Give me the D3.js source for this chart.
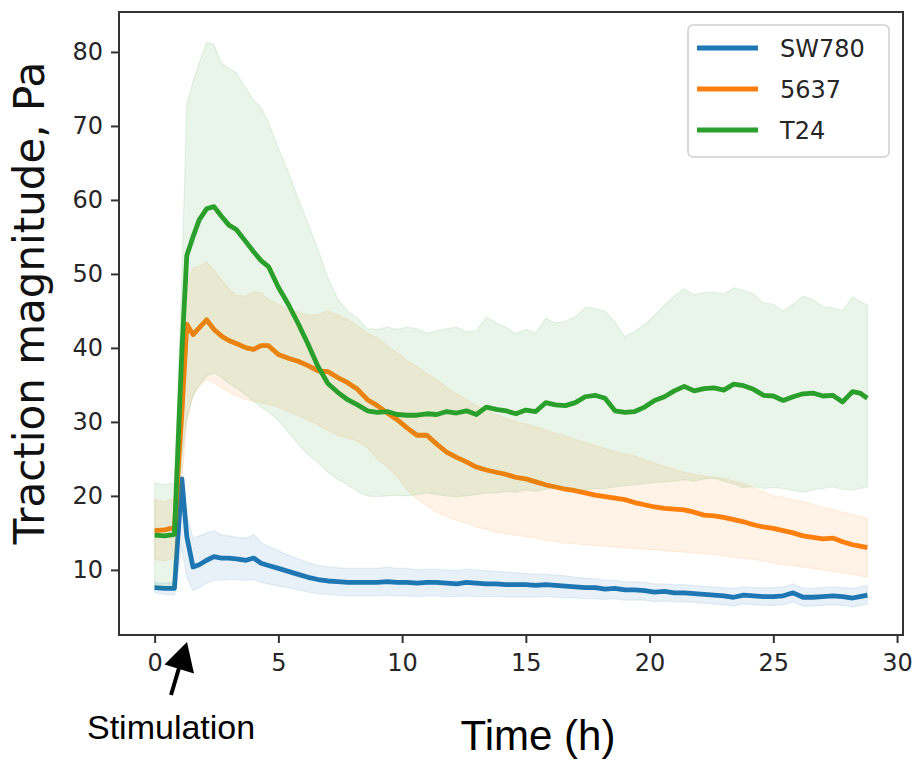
<!DOCTYPE html>
<html>
<head>
<meta charset="utf-8">
<script src="https://cdn.jsdelivr.net/npm/d3@7"></script>
<style>
  body { margin: 0; background: #fff; }
  svg { display: block; }
</style>
</head>
<body>
<div id="chart"></div>
<script>
// time points (h)
var time = [0, 0.4, 0.8, 1.1, 1.3, 1.55, 1.8, 2.1, 2.4, 2.7, 3.0, 3.3, 3.7, 4.0, 4.3, 4.6,
  5.0, 5.4, 5.8, 6.2, 6.6, 7.0, 7.4, 7.8, 8.2, 8.6, 9.0, 9.4, 9.8, 10.2, 10.6, 11.0, 11.4, 11.8,
  12.2, 12.6, 13.0, 13.4, 13.8, 14.2, 14.6, 15.0, 15.4, 15.8, 16.2, 16.6, 17.0, 17.4, 17.8, 18.2,
  18.6, 19.0, 19.4, 19.8, 20.2, 20.6, 21.0, 21.4, 21.8, 22.2, 22.6, 23.0, 23.4, 23.8, 24.2, 24.6,
  25.0, 25.4, 25.8, 26.2, 26.6, 27.0, 27.4, 27.8, 28.2, 28.5, 28.8];

var sw780_mean = [7.6, 7.5, 7.5, 22.3, 14.5, 10.4, 10.7, 11.3, 11.8, 11.6, 11.6, 11.5, 11.3, 11.6, 10.9, 10.6,
  10.2, 9.8, 9.4, 9.0, 8.7, 8.5, 8.4, 8.3, 8.3, 8.3, 8.3, 8.4, 8.3, 8.3, 8.2, 8.3, 8.3, 8.2,
  8.1, 8.3, 8.2, 8.1, 8.1, 8.0, 8.0, 8.0, 7.9, 8.0, 7.9, 7.8, 7.7, 7.6, 7.6, 7.4,
  7.5, 7.3, 7.3, 7.2, 7.0, 7.1, 6.9, 6.9, 6.8, 6.7, 6.6, 6.5, 6.3, 6.6, 6.5, 6.4,
  6.4, 6.5, 6.9, 6.3, 6.3, 6.4, 6.5, 6.4, 6.2, 6.4, 6.6];
var sw780_hi = [8.3, 8.2, 8.3, 22.5, 17.5, 14.3, 14.6, 15.0, 15.3, 14.7, 14.6, 14.4, 14.3, 14.8, 13.7, 13.2,
  12.6, 12.0, 11.5, 11.0, 10.6, 10.4, 10.3, 10.2, 10.2, 10.2, 10.2, 10.4, 10.2, 10.2, 10.0, 10.1, 10.1, 10.0,
  9.9, 10.1, 10.0, 9.9, 9.8, 9.7, 9.6, 9.5, 9.4, 9.4, 9.3, 9.2, 9.0, 8.9, 8.8, 8.6,
  8.6, 8.4, 8.4, 8.3, 8.1, 8.1, 8.0, 8.0, 7.9, 7.8, 7.7, 7.6, 7.5, 7.7, 7.6, 7.6,
  7.6, 7.7, 8.1, 7.5, 7.5, 7.6, 7.7, 7.6, 7.5, 7.7, 7.9];
var sw780_lo = [6.9, 6.7, 6.6, 13.0, 9.0, 7.2, 7.6, 8.2, 8.6, 8.6, 8.7, 8.7, 8.6, 8.7, 8.3, 8.1,
  7.8, 7.6, 7.3, 7.0, 6.8, 6.7, 6.6, 6.5, 6.5, 6.5, 6.5, 6.6, 6.5, 6.5, 6.4, 6.5, 6.5, 6.4,
  6.4, 6.5, 6.4, 6.4, 6.4, 6.3, 6.3, 6.3, 6.3, 6.4, 6.3, 6.2, 6.2, 6.1, 6.1, 6.0,
  6.1, 5.9, 5.9, 5.9, 5.7, 5.8, 5.7, 5.7, 5.6, 5.5, 5.4, 5.3, 5.1, 5.4, 5.3, 5.2,
  5.2, 5.3, 5.7, 5.1, 5.1, 5.2, 5.3, 5.2, 5.0, 5.2, 5.4];

var c5637_mean = [15.3, 15.4, 15.7, 31.2, 43.2, 41.8, 42.7, 43.8, 42.5, 41.6, 41.0, 40.6, 40.0, 39.8, 40.3, 40.3,
  39.1, 38.6, 38.2, 37.6, 36.9, 36.8, 36.0, 35.3, 34.4, 33.0, 32.2, 31.2, 30.3, 29.2, 28.2, 28.2, 27.0, 25.9,
  25.2, 24.6, 23.9, 23.5, 23.2, 22.9, 22.5, 22.3, 21.9, 21.5, 21.2, 20.9, 20.7, 20.4, 20.1, 19.9,
  19.7, 19.5, 19.1, 18.8, 18.5, 18.3, 18.2, 18.1, 17.8, 17.4, 17.3, 17.1, 16.8, 16.5, 16.1, 15.8,
  15.6, 15.3, 15.0, 14.6, 14.4, 14.2, 14.3, 13.8, 13.4, 13.2, 13.0];
var c5637_hi = [19.5, 19.2, 19.6, 40.0, 48.5, 50.8, 51.0, 51.6, 50.5, 49.2, 48.0, 47.1, 47.0, 47.6, 47.4, 46.5,
  45.9, 45.2, 44.8, 44.4, 44.5, 45.0, 44.4, 43.8, 43.0, 42.0, 41.3, 40.3, 39.3, 38.3, 37.5, 36.5, 35.7, 34.7,
  33.8, 33.0, 32.2, 31.6, 31.0, 30.5, 30.0, 29.7, 29.3, 28.9, 28.5, 28.1, 27.6, 27.2, 26.8, 26.4,
  26.0, 25.7, 25.4, 24.9, 24.4, 24.0, 23.6, 23.2, 22.9, 22.7, 22.5, 22.4, 22.0, 21.7, 21.1, 20.6,
  20.0, 19.8, 19.5, 19.2, 18.9, 18.5, 18.2, 17.8, 17.5, 17.2, 17.0];
var c5637_lo = [11.4, 11.2, 11.6, 22.0, 30.0, 33.6, 34.8, 35.8, 35.3, 34.6, 34.0, 33.5, 33.0, 32.8, 32.6, 32.4,
  32.0, 31.4, 30.8, 30.3, 29.6, 28.8, 28.2, 27.8, 27.4, 26.5, 25.0, 24.0, 22.6, 20.8, 19.6, 18.7, 17.8, 17.2,
  16.7, 16.3, 15.8, 15.5, 15.1, 14.9, 14.7, 14.5, 14.3, 14.0, 13.8, 13.6, 13.5, 13.4, 13.3, 13.2,
  13.1, 13.0, 12.9, 12.8, 12.7, 12.6, 12.5, 12.4, 12.3, 12.2, 12.1, 11.9, 11.7, 11.6, 11.4, 11.2,
  10.9, 10.7, 10.6, 10.4, 10.2, 10.0, 9.8, 9.6, 9.4, 9.2, 9.0];

var t24_mean = [14.7, 14.6, 14.8, 39.5, 52.5, 55.0, 57.3, 58.8, 59.1, 57.8, 56.6, 56.0, 54.3, 53.0, 51.8, 51.0,
  48.2, 45.9, 43.3, 40.5, 37.5, 35.2, 34.0, 33.0, 32.3, 31.5, 31.3, 31.4, 31.0, 30.9, 30.9, 31.1, 31.0, 31.4,
  31.2, 31.5, 31.0, 32.0, 31.7, 31.5, 31.1, 31.6, 31.4, 32.6, 32.3, 32.2, 32.6, 33.4, 33.6, 33.2,
  31.5, 31.3, 31.4, 32.0, 32.9, 33.4, 34.2, 34.8, 34.2, 34.5, 34.6, 34.3, 35.1, 34.9, 34.4, 33.6,
  33.5, 32.9, 33.4, 33.8, 33.9, 33.5, 33.6, 32.7, 34.1, 33.9, 33.2];
var t24_hi = [21.8, 21.5, 21.8, 50.0, 73.0, 76.0, 78.5, 81.3, 81.0, 78.5, 77.8, 77.2, 75.0, 73.5, 72.5, 70.5,
  67.0, 63.8, 60.2, 56.8, 53.3, 49.5, 46.6, 45.0, 44.0, 42.6, 42.5, 42.8, 42.5, 42.8, 42.6, 42.0, 42.3, 42.6,
  42.8, 42.2, 42.3, 44.2, 43.4, 42.8, 41.9, 42.5, 42.0, 44.0, 43.4, 43.6, 44.2, 45.5, 45.3, 45.0,
  43.5, 41.5, 42.2, 43.2, 44.4, 45.8, 47.0, 48.0, 47.2, 47.5, 47.5, 47.3, 48.1, 47.8, 47.3, 46.1,
  45.9, 45.0, 45.9, 47.0, 46.5, 45.6, 45.4, 45.0, 46.9, 46.3, 45.8];
var t24_lo = [7.6, 7.5, 7.6, 25.0, 30.5, 33.5, 35.0, 36.2, 36.6, 36.0, 35.2, 34.6, 33.6, 32.8, 32.0, 31.3,
  30.2, 28.6, 27.0, 25.6, 24.5, 23.2, 22.3, 21.5, 20.6, 20.0, 19.9, 20.0, 20.1, 20.0, 20.2, 20.4, 20.2, 20.0,
  19.9, 20.0, 20.2, 20.4, 20.4, 20.6, 20.5, 20.8, 20.6, 20.9, 21.1, 20.9, 20.8, 20.8, 21.0, 21.0,
  21.2, 21.4, 21.5, 21.7, 21.8, 21.9, 22.0, 22.2, 22.0, 22.3, 22.4, 22.0, 21.6, 21.1, 21.3, 21.0,
  21.1, 21.0, 20.7, 20.5, 20.8, 21.0, 21.2, 20.9, 20.8, 21.0, 21.2];

var names = ["SW780", "5637", "T24"];
var colors = ["#1f77b4", "#ff7f0e", "#2ca02c"];
var xTicks = [0, 5, 10, 15, 20, 25, 30];
var yTicks = [10, 20, 30, 40, 50, 60, 70, 80];

var series = [
  { name: names[0], color: colors[0], mean: sw780_mean, lo: sw780_lo, hi: sw780_hi },
  { name: names[1], color: colors[1], mean: c5637_mean, lo: c5637_lo, hi: c5637_hi },
  { name: names[2], color: colors[2], mean: t24_mean, lo: t24_lo, hi: t24_hi }
];

var W = 916, H = 760;
var margin = { left: 119, right: 13, top: 12, bottom: 125 };
var plotW = W - margin.left - margin.right;
var plotH = H - margin.top - margin.bottom;

var svg = d3.select("#chart").append("svg")
    .attr("width", W)
    .attr("height", H);

var x = d3.scaleLinear().domain([-1.44, 30.24]).range([0, plotW]);
var y = d3.scaleLinear().domain([1.2, 85.4]).range([plotH, 0]);

var g = svg.append("g")
    .attr("transform", "translate(" + margin.left + "," + margin.top + ")");

var line = d3.line()
    .x(function(d) { return x(d.t); })
    .y(function(d) { return y(d.m); });

var area = d3.area()
    .x(function(d) { return x(d.t); })
    .y0(function(d) { return y(d.lo); })
    .y1(function(d) { return y(d.hi); });

series.forEach(function(s) {
  var pts = time.map(function(t, i) {
    return { t: t, m: s.mean[i], lo: s.lo[i], hi: s.hi[i] };
  });
  g.append("path")
    .datum(pts)
    .attr("d", line)
    .attr("fill", "none")
    .attr("stroke", s.color)
    .attr("stroke-width", 4.8)
    .attr("stroke-linejoin", "round")
    .attr("stroke-linecap", "butt");
  g.append("path")
    .datum(pts)
    .attr("d", area)
    .attr("fill", s.color)
    .attr("fill-opacity", 0.1)
    .attr("stroke", s.color)
    .attr("stroke-opacity", 0.1)
    .attr("stroke-width", 1.2);
});

// axes
var xAxis = d3.axisBottom(x).tickValues(xTicks).tickSize(8).tickPadding(5);
var yAxis = d3.axisLeft(y).tickValues(yTicks).tickSize(8).tickPadding(8);

var gx = g.append("g")
    .attr("transform", "translate(0," + plotH + ")")
    .call(xAxis);
var gy = g.append("g").call(yAxis);

[gx, gy].forEach(function(a) {
  a.select(".domain").remove();
  a.selectAll(".tick line").attr("stroke", "#333").attr("stroke-width", 2);
  a.selectAll(".tick text")
    .attr("fill", "#262626")
    .style("font-family", "'DejaVu Sans'")
    .style("font-size", "24px");
});
gx.selectAll(".tick text").attr("dy", "0.95em");

// frame
g.append("rect")
    .attr("x", 0).attr("y", 0)
    .attr("width", plotW).attr("height", plotH)
    .attr("fill", "none")
    .attr("stroke", "#333")
    .attr("stroke-width", 2);

// legend
var leg = g.append("g").attr("transform", "translate(" + (688 - margin.left) + "," + (25 - margin.top) + ")");
leg.append("rect")
    .attr("width", 201).attr("height", 132)
    .attr("rx", 5)
    .attr("fill", "#fff").attr("fill-opacity", 0.8)
    .attr("stroke", "#d0d0d0").attr("stroke-width", 1.5);
series.forEach(function(s, i) {
  var ly = 23 + i * 41;
  leg.append("line")
    .attr("x1", 9).attr("x2", 70)
    .attr("y1", ly).attr("y2", ly)
    .attr("stroke", s.color).attr("stroke-width", 4.8);
  leg.append("text")
    .attr("x", 92).attr("y", ly)
    .attr("dy", "0.36em")
    .attr("fill", "#262626")
    .style("font-family", "'DejaVu Sans'")
    .style("font-size", "24px")
    .text(s.name);
});

// axis labels
svg.append("text")
    .attr("transform", "translate(44,303) rotate(-90)")
    .attr("text-anchor", "middle")
    .attr("fill", "#111")
    .style("font-family", "'DejaVu Sans'")
    .style("font-size", "42px")
    .text("Traction magnitude, Pa");

svg.append("text")
    .attr("x", 538).attr("y", 750)
    .attr("text-anchor", "middle")
    .attr("fill", "#000")
    .style("font-family", "'Liberation Sans'")
    .style("font-size", "42px")
    .text("Time (h)");

// stimulation annotation
svg.append("line")
    .attr("x1", 171).attr("y1", 695)
    .attr("x2", 179).attr("y2", 668)
    .attr("stroke", "#000").attr("stroke-width", 4);
svg.append("path")
    .attr("d", "M187,642 L164.5,664.5 L194,673.5 Z")
    .attr("fill", "#000");
svg.append("text")
    .attr("x", 87).attr("y", 739)
    .attr("fill", "#000")
    .style("font-family", "'Liberation Sans'")
    .style("font-size", "34px")
    .text("Stimulation");
</script>
</body>
</html>
